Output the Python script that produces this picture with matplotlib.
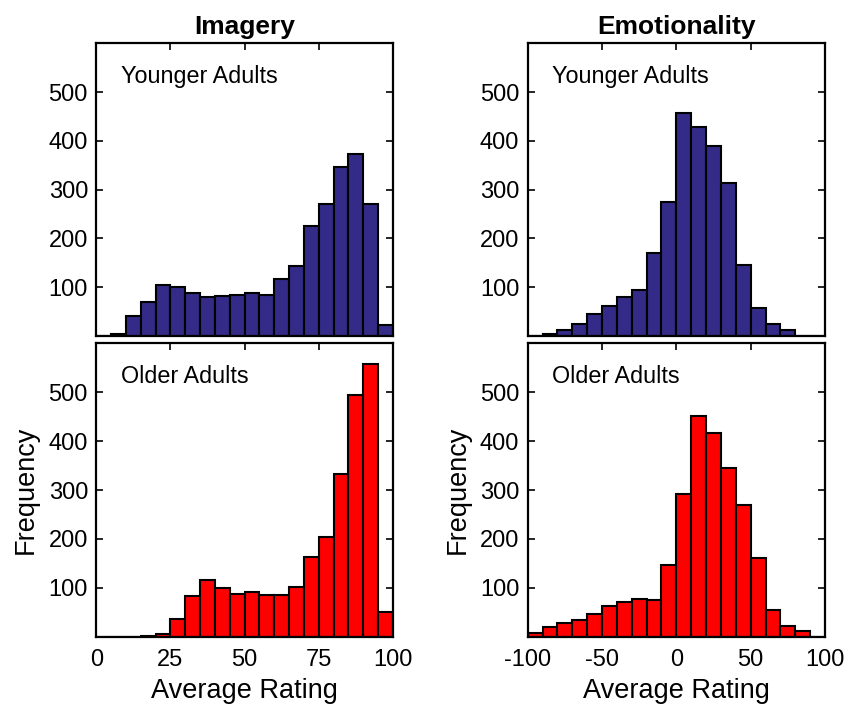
import matplotlib
matplotlib.use("Agg")
import matplotlib.pyplot as plt
import numpy as np

plt.rcParams['font.family'] = ['Liberation Sans', 'DejaVu Sans']
plt.rcParams['axes.unicode_minus'] = False

# Bin left edges
imagery_edges = [0, 5, 10, 15, 20, 25, 30, 35, 40, 45, 50, 55, 60, 65, 70, 75, 80, 85, 90, 95]
emotion_edges = [-100, -90, -80, -70, -60, -50, -40, -30, -20, -10, 0, 10, 20, 30, 40, 50, 60, 70, 80, 90]

# Frequencies
imagery_young = [1, 5, 41, 69, 104, 100, 88, 80, 82, 85, 88, 84, 116, 144, 226, 271, 346, 374, 270, 23]
imagery_old = [0, 0, 0, 1, 6, 36, 84, 115, 99, 88, 92, 86, 86, 102, 163, 204, 332, 494, 558, 50]
emotion_young = [0, 4, 13, 24, 46, 61, 80, 95, 170, 274, 457, 428, 390, 313, 146, 58, 24, 12, 0, 0]
emotion_old = [7, 19, 27, 35, 47, 63, 70, 77, 76, 146, 292, 451, 417, 346, 270, 161, 55, 22, 11, 0]

imagery_xticks = [0, 25, 50, 75, 100]
emotion_xticks = [-100, -50, 0, 50, 100]
yticks = [100, 200, 300, 400, 500]

navy = '#332B87'
red = '#FF0000'

fig = plt.figure(figsize=(8.44, 7.05), dpi=100)

W, H = 844, 705
def axes_px(x0, y0, x1, y1):
    return fig.add_axes([x0 / W, 1 - y1 / H, (x1 - x0) / W, (y1 - y0) / H])

ax_tl = axes_px(96.3, 43.3, 393.0, 336.0)
ax_tr = axes_px(527.7, 43.3, 825.0, 336.0)
ax_bl = axes_px(96.3, 343.3, 393.0, 636.7)
ax_br = axes_px(527.7, 343.3, 825.0, 636.7)

panels = [
    (ax_tl, imagery_edges, imagery_young, 5, navy, 'Younger Adults', (0, 100), imagery_xticks),
    (ax_tr, emotion_edges, emotion_young, 10, navy, 'Younger Adults', (-100, 100), emotion_xticks),
    (ax_bl, imagery_edges, imagery_old, 5, red, 'Older Adults', (0, 100), imagery_xticks),
    (ax_br, emotion_edges, emotion_old, 10, red, 'Older Adults', (-100, 100), emotion_xticks),
]

for ax, edges, counts, w, col, label, xlim, xt in panels:
    ax.bar(edges, counts, width=w, align='edge', color=col, edgecolor='black', linewidth=1.5)
    ax.set_xlim(*xlim)
    ax.set_ylim(0, 600)
    ax.set_yticks(yticks)
    ax.set_xticks(xt)
    ax.tick_params(direction='in', length=5, width=1.2, top=True, right=True, labelsize=17)
    ax.tick_params(axis='y', pad=6)
    ax.tick_params(axis='x', pad=9)
    for s in ax.spines.values():
        s.set_linewidth(1.6)
    ax.text(0.083, 0.886, label, transform=ax.transAxes, fontsize=16.8, va='center', ha='left')

for ax in (ax_tl, ax_tr):
    ax.tick_params(labelbottom=False)

ax_tl.set_title('Imagery', fontsize=19, fontweight='bold', pad=7)
ax_tr.set_title('Emotionality', fontsize=19, fontweight='bold', pad=7)

for ax in (ax_bl, ax_br):
    ax.set_xlabel('Average Rating', fontsize=19.5, labelpad=5)
    ax.set_ylabel('Frequency', fontsize=19.5, labelpad=7)

fig.savefig('out.png', dpi=100)
